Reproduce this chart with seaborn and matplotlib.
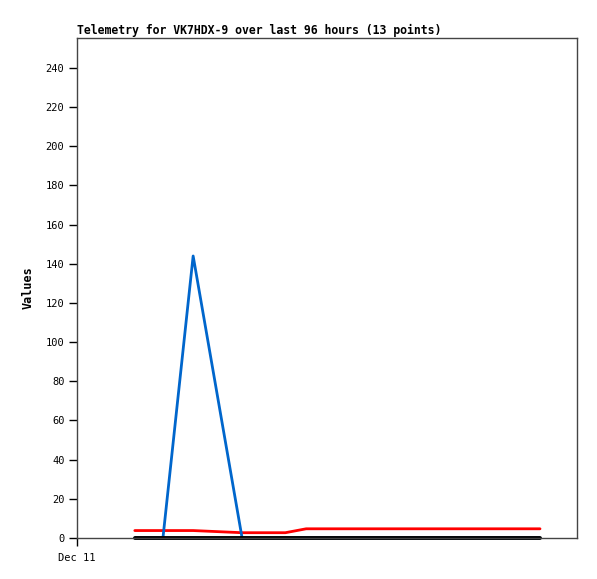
import matplotlib
matplotlib.use("Agg")
import matplotlib.pyplot as plt
import seaborn as sns
import pandas as pd

# hours since start of window (Dec 11 00:00)
hours = [11.1, 16.5, 22.3, 31.7, 40.0, 44.0, 50.0, 57.0, 64.0, 70.0, 76.0, 82.0, 88.9]
series_red = [3.8, 3.8, 3.8, 2.7, 2.7, 4.7, 4.7, 4.7, 4.7, 4.7, 4.7, 4.7, 4.7]
series_blue = [0, 0, 144, 0, 0, 0, 0, 0, 0, 0, 0, 0, 0]
series_black = [0, 0, 0, 0, 0, 0, 0, 0, 0, 0, 0, 0, 0]
y_ticks = [0, 20, 40, 60, 80, 100, 120, 140, 160, 180, 200, 220, 240]
x_tick_labels = ["Dec 11"]
title = "Telemetry for VK7HDX-9 over last 96 hours (13 points)"

sns.set_style("white")
plt.rcParams['font.family'] = ['DejaVu Sans Mono']
plt.rcParams['text.color'] = 'black'
plt.rcParams['axes.labelcolor'] = 'black'
plt.rcParams['xtick.color'] = 'black'
plt.rcParams['ytick.color'] = 'black'

fig = plt.figure(figsize=(5.97, 5.79), dpi=100)
ax = fig.add_axes([77/597, 1-538/579, 500/597, 500/579])

df = pd.DataFrame({"h": hours, "red": series_red, "blue": series_blue, "black": series_black})
sns.lineplot(data=df, x="h", y="red", ax=ax, color="#ff0000", linewidth=2)
sns.lineplot(data=df, x="h", y="blue", ax=ax, color="#0066cc", linewidth=2)
sns.lineplot(data=df, x="h", y="black", ax=ax, color="#000000", linewidth=2.8)
for ln in ax.lines:
    ln.set_clip_on(False)

ax.set_xlim(0, 96)
ax.set_ylim(0, 255.3)
ax.set_yticks(y_ticks)
ax.set_yticklabels([str(v) for v in y_ticks], fontsize=7.5)
ax.set_xticks([0])
ax.set_xticklabels(x_tick_labels, fontsize=7.5)
ax.tick_params(axis="both", direction="out", length=6, width=1, color="#000000",
               pad=3, left=True, bottom=True, labelcolor="black")
ax.tick_params(axis="x", pad=5)
for s in ax.spines.values():
    s.set_color("#444444")
    s.set_linewidth(1)
ax.set_xlabel("")
ax.set_ylabel("Values", fontsize=8.5, fontweight="bold", labelpad=8)
ax.set_title(title, fontsize=8.3, fontweight="bold", loc="left", pad=3)

fig.savefig("out.png", dpi=100)
